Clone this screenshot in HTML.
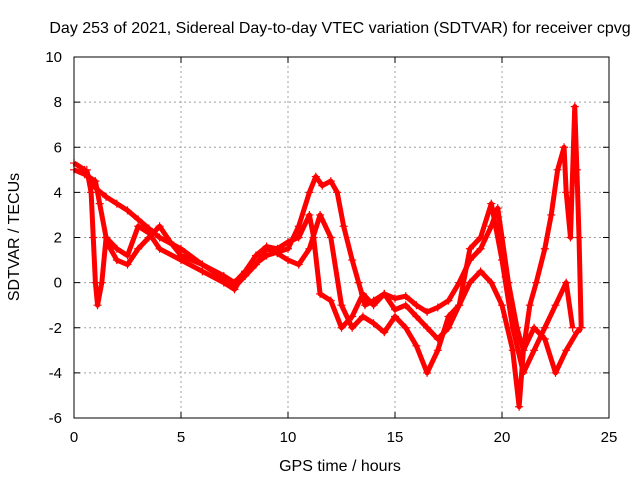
<!DOCTYPE html>
<html><head><meta charset="utf-8"><style>
body{margin:0;background:#fff}
svg{display:block;font-family:"Liberation Sans",sans-serif}
</style></head><body>
<svg id="chart" width="640" height="480">
<text x="340" y="33" text-anchor="middle" font-size="16">Day 253 of 2021, Sidereal Day-to-day VTEC variation (SDTVAR) for receiver cpvg</text>
<text x="340" y="471" text-anchor="middle" font-size="16">GPS time / hours</text>
<text transform="translate(19,237) rotate(-90)" text-anchor="middle" font-size="16">SDTVAR / TECUs</text>
<g id="grid"></g><g id="ticks"></g><g id="marks"></g>
<rect x="74" y="57" width="535" height="361" fill="none" stroke="#000" stroke-width="1"/>
</svg>
<script>
const xTicks=[0,5,10,15,20,25];
const yTicks=[-6,-4,-2,0,2,4,6,8,10];
const trackA=[[0,5.3],[0.5,5],[1,4.2],[1.5,3.8],[2,3.5],[2.5,3.2],[3,2.8],[3.5,2.4],[4,2],[5,1.5],[6,0.8],[7,0.3],[7.5,0],[8,0.5],[9,1.2],[10,1.5],[10.5,2.5],[11,4],[11.3,4.7],[11.6,4.3],[12,4.5],[12.3,4],[12.6,2.5],[13,1],[13.3,0],[13.6,-1],[14,-0.8],[14.5,-0.5],[15,-0.7],[15.5,-0.6],[16,-1],[16.5,-1.3],[17,-1.1],[17.5,-0.8],[18,0],[18.5,1],[19,1.5],[19.5,2.5],[19.8,3.3],[20,2],[20.3,0],[20.7,-2],[21,-3],[21.3,-1],[21.6,0],[22,1.5],[22.3,3],[22.6,5],[22.9,6],[23,4],[23.2,2],[23.4,7.8],[23.5,5],[23.6,2],[23.7,-2]];
const trackB=[[0.6,5],[0.8,4],[0.9,2],[1,0],[1.1,-1],[1.3,0],[1.5,2],[1.7,1.5],[2,1],[2.5,0.8],[3,1.5],[3.5,2],[4,2.5],[4.5,1.8],[5,1.2],[6,0.8],[7,0.2],[7.5,-0.2],[8,0.3],[8.5,0.8],[9,1.5],[9.5,1.3],[10,1],[10.5,0.8],[11,1.5],[11.5,3],[12,2],[12.5,-1],[13,-2],[13.5,-1.5],[14,-1.8],[14.5,-2.2],[15,-1.5],[15.5,-2],[16,-2.8],[16.5,-4],[17,-3],[17.5,-1.5],[18,-1],[18.5,0],[19,0.5],[19.5,0],[20,-1],[20.5,-3],[20.8,-5.5],[21,-3],[21.5,-2],[22,-2.5],[22.5,-4],[23,-3],[23.5,-2.2],[23.7,-2]];
const trackC=[[0,5],[0.5,4.8],[1,4.5],[1.2,3.5],[1.5,2],[2,1.5],[2.5,1.2],[3,2.5],[3.5,2.2],[4,1.5],[5,1],[6,0.5],[7,0],[7.5,-0.3],[8,0.5],[8.5,1.2],[9,1.6],[9.5,1.5],[10,1.8],[10.5,2],[11,3],[11.2,2],[11.5,-0.5],[12,-0.8],[12.5,-2],[13,-1.5],[13.5,-0.5],[14,-1],[14.5,-0.5],[15,-1.2],[15.5,-1],[16,-1.5],[16.5,-2],[17,-2.5],[17.5,-2],[18,-1],[18.5,1.5],[19,2],[19.5,3.5],[20,1],[20.5,-2],[21,-4],[21.5,-3],[22,-2],[22.5,-1],[23,0],[23.3,-2]];
const NS="http://www.w3.org/2000/svg";
const X0=74,X1=609,Y0=418,Y1=57;
const sx=v=>X0+(v-0)/(25-0)*(X1-X0);
const sy=v=>Y0-(v+6)/16*(Y0-Y1);
function mk(t,a,p){const e=document.createElementNS(NS,t);for(const k in a)e.setAttribute(k,a[k]);p.appendChild(e);return e;}
const grid=document.getElementById('grid'),ticks=document.getElementById('ticks'),marks=document.getElementById('marks');
xTicks.forEach(v=>{const x=sx(v);
 if(v>0&&v<25){const g=mk('line',{x1:x,x2:x,y1:Y0,y2:Y1,stroke:'#a0a0a0','stroke-dasharray':'2,3'},grid);
 
 }
 const t=mk('text',{x:x,y:Y0+24,'text-anchor':'middle','font-size':15},ticks);t.textContent=v;
 
 
 mk('line',{x1:x,x2:x,y1:Y0,y2:Y0-6,stroke:'#000'},ticks);mk('line',{x1:x,x2:x,y1:Y1,y2:Y1+6,stroke:'#000'},ticks);});
yTicks.forEach(v=>{const y=sy(v);
 if(v>-6&&v<10){const g=mk('line',{x1:X0,x2:X1,y1:y,y2:y,stroke:'#a0a0a0','stroke-dasharray':'2,3'},grid);
 
 }
 const t=mk('text',{x:X0-12,y:y+5,'text-anchor':'end','font-size':15},ticks);t.textContent=v;
 
 
 mk('line',{x1:X0,x2:X0+6,y1:y,y2:y,stroke:'#000'},ticks);mk('line',{x1:X1,x2:X1-6,y1:y,y2:y,stroke:'#000'},ticks);});
[trackA,trackB,trackC].forEach((tr,i)=>{
 const pl=mk('polyline',{points:tr.map(p=>sx(p[0])+','+sy(p[1])).join(' '),fill:'none',stroke:'#ff0000','stroke-width':5,'stroke-linejoin':'round'},marks);
 
 
 tr.forEach(p=>{const x=sx(p[0]),y=sy(p[1]);
  const m=mk('path',{d:`M${x-4},${y}H${x+4}M${x},${y-4}V${y+4}`,stroke:'#ff0000','stroke-width':1.2},marks);
  
  });
});
</script>
</body></html>
